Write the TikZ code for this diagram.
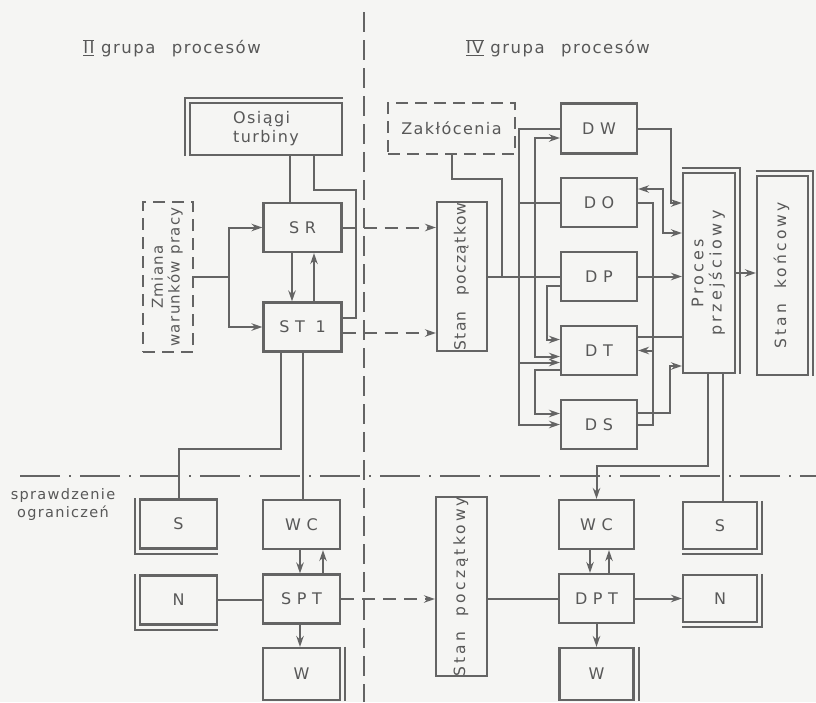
\documentclass[tikz,border=0pt]{standalone}
\usepackage{fontspec}
\usepackage{graphicx}
\usetikzlibrary{arrows.meta}
\setmainfont{DejaVu Sans}
\newfontfamily\napis[LetterSpace=9]{DejaVu Sans}
\newfontfamily\rozstaw[LetterSpace=20]{DejaVu Sans}
\newfontfamily\skrot[LetterSpace=35]{DejaVu Sans}
\definecolor{linia}{RGB}{100,100,100}
\definecolor{napisy}{RGB}{88,88,88}
\definecolor{tlo}{RGB}{245,245,243}
\newcommand{\pion}[1]{\rotatebox{90}{\begin{tabular}{@{}c@{}}#1\end{tabular}}}

\begin{document}
\begin{tikzpicture}[x=1pt,y=-1pt,>={Stealth[length=11pt,width=7.5pt]},node distance=74pt,
    lin/.style={draw=linia, line width=2pt},
    przerywana/.style={lin, dash pattern=on 13pt off 8pt},
    blok/.style={draw=linia, line width=2.2pt, rectangle, inner sep=0pt,
        minimum width=78pt, minimum height=49pt, text=napisy,
        font=\skrot\fontsize{16}{19}\selectfont},
    kreski/.style={dash pattern=on 12pt off 7pt},
    pionowy/.style={blok, font=\rozstaw\fontsize{15.5}{18}\selectfont},
    opis/.style={text=napisy, align=center, font=\napis\fontsize{16.5}{19}\selectfont}]
    \fill[tlo] (0,0) rectangle (816,702);
    \useasboundingbox (0,0) rectangle (816,702);

    % II grupa procesow
    \node (tytul2) [opis] at (172,48) {$\overline{\underline{\mbox{II}}}$ grupa\quad procesów};
    \node (osiagi) [blok, minimum width=152pt, minimum height=52pt, align=left,
        font=\napis\fontsize{16}{19}\selectfont] at (266,129) {Osiągi\\turbiny};
    \node (sr) [blok] at (302.5,227.5) {SR};
    \node (st1) [blok, node distance=99.5pt, below of=sr] {ST 1};
    \node (zmiana) [pionowy, kreski, minimum width=50pt, minimum height=150pt,
        font=\napis\fontsize{15}{16}\selectfont] at (168,277) {\pion{Zmiana\\warunków pracy}};

    % IV grupa procesow
    \node (tytul4) [opis] at (558,48) {$\overline{\underline{\mbox{IV}}}$ grupa\quad procesów};
    \node (zakl) [blok, kreski, minimum width=127pt, minimum height=51pt,
        font=\napis\fontsize{16}{19}\selectfont] at (451.5,128.5) {Zakłócenia};
    \node (stanA) [pionowy, minimum width=50pt, minimum height=147pt,
        font=\napis\fontsize{15.5}{18}\selectfont] at (462,276.5) {\pion{Stan\quad początkow}};
    \node (dw) [blok, minimum width=76pt, minimum height=50pt] at (599,128.5) {DW};
    \node (do) [blok, minimum width=76pt, below of=dw] {DO};
    \node (dp) [blok, minimum width=76pt, below of=do] {DP};
    \node (dt) [blok, minimum width=76pt, below of=dp] {DT};
    \node (ds) [blok, minimum width=76pt, below of=dt] {DS};
    \node (proces) [pionowy, minimum width=52pt, minimum height=200pt,
        font=\rozstaw\fontsize{16}{18}\selectfont] at (709,273) {\pion{Proces\\przejściowy}};
    \node (konc) [pionowy, minimum width=51pt, minimum height=199pt] at (782.5,275.5) {\pion{Stan\quad końcowy}};

    % sprawdzenie ograniczen
    \node (spr) [opis, font=\napis\fontsize{14.5}{18}\selectfont] at (63,504) {sprawdzenie\\ograniczeń};
    \node (sL) [blok, minimum width=77pt] at (178.5,524) {S};
    \node (nL) [blok, minimum width=77pt, node distance=76pt, below of=sL] {N};
    \node (wcL) [blok, minimum width=77pt] at (301.5,524.5) {WC};
    \node (sptL) [blok, minimum width=77pt, node distance=74.5pt, below of=wcL] {SPT};
    \node (wL) [blok, minimum width=77pt, minimum height=52pt, node distance=75pt, below of=sptL] {W};
    \node (stanB) [pionowy, minimum width=51pt, minimum height=173pt] at (461.5,586.5) {\pion{Stan\quad początkowy}};
    \node (wcR) [blok, minimum width=75pt] at (596.5,524.5) {WC};
    \node (dpt) [blok, minimum width=75pt, below of=wcR] {DPT};
    \node (wR) [blok, minimum width=74pt, minimum height=52pt, node distance=75.5pt, below of=dpt] {W};
    \node (sR) [blok, minimum width=74pt, minimum height=47pt] at (720,525.5) {S};
    \node (nR) [blok, minimum width=74pt, minimum height=47pt, node distance=73pt, below of=sR] {N};

    % podwojne krawedzie
    \draw[lin] ([xshift=-4pt]osiagi.south west) |- ([yshift=4pt]osiagi.north east);
    \foreach \n in {proces,konc}
        \draw[lin] ([yshift=4pt]\n.north west) -| ([xshift=4pt]\n.south east);
    \foreach \n in {sL,nL}
        \draw[lin] ([xshift=-4pt]\n.north west) |- ([yshift=-4pt]\n.south east);
    \foreach \n in {sR,nR}
        \draw[lin] ([xshift=4pt]\n.north east) |- ([yshift=-4pt]\n.south west);
    \foreach \n in {wL,wR}
        \draw[lin] ([xshift=4pt]\n.north east) -- ([xshift=4pt]\n.south east);

    % linie podzialu
    \draw[linia, line width=1.6pt, dash pattern=on 20pt off 8pt] (364,12) -- (364,702);
    \draw[linia, line width=1.6pt, dash pattern=on 40pt off 9pt on 2pt off 9pt] (20,476) -- (816,476);

    % polaczenia lewej grupy
    \draw[lin] ([xshift=24pt]osiagi.south) -- ([xshift=-12.5pt]sr.north);
    \draw[lin] ([xshift=48pt]osiagi.south) -- ++(0,34) -| ([xshift=13.5pt,yshift=9pt]st1.east) -- ([yshift=9pt]st1.east);
    \draw[lin,->] ([xshift=-10.5pt]sr.south) -- ([xshift=-10.5pt]st1.north);
    \draw[lin,->] ([xshift=11.5pt]st1.north) -- ([xshift=11.5pt]sr.south);
    \draw[lin,->] (zmiana.east) -- ++(35,0) |- (sr.west);
    \draw[lin,->] (zmiana.east) -- ++(35,0) |- (st1.west);
    \draw[przerywana,->] (sr.east) -- (sr.east -| stanA.west);
    \draw[przerywana,->] ([yshift=-6pt]st1.east) -- ([yshift=-6pt]st1.east -| stanA.west);
    \draw[lin] ([xshift=-21.5pt]st1.south) -- ++(0,96.5) -| (sL.north);
    \draw[lin] (st1.south) -- (st1.south |- wcL.north);

    % polaczenia prawej grupy
    \draw[lin] (zakl.south) -- ++(0,24) -| ([xshift=-58pt]dp.west);
    \draw[lin] (stanA.east |- dp.west) -- (dp.west);
    \draw[lin,->] (dw.west) -- ++(-41,0) |- (ds.west);
    \draw[lin] (do.west) -- ++(-41,0);
    \draw[lin,<-] ([yshift=-12pt]dt.west) -- ++(-41,0);
    \draw[lin,->] ([xshift=-25pt]dp.west) |- ([yshift=-9.5pt]dw.west);
    \draw[lin,->] ([xshift=-25pt]dp.west) |- ([yshift=-6pt]dt.west);
    \draw[lin,->] ([yshift=-9.5pt]dp.west) -- ++(-13,0) |- ([yshift=11pt]dt.west);
    \draw[lin,->] ([yshift=-19pt]dt.west) -- ++(-25,0) |- ([yshift=11pt]ds.west);
    \draw[lin,->] (dw.east) -- ++(33,0) |- ([yshift=70pt]proces.west);
    \draw[lin,<->] ([yshift=13.5pt]do.east) -- ++(25,0) |- ([yshift=40pt]proces.west);
    \draw[lin,->] (dp.east) -- (dp.east -| proces.west);
    \draw[lin] ([yshift=14pt]dt.east) -- ++(46,0);
    \draw[lin] (do.east) -- ++(15,0) |- (ds.east);
    \draw[lin,->] ([xshift=15pt]dt.east) -- (dt.east);
    \draw[lin,->] ([yshift=12pt]ds.east) -- ++(32,0) |- ([yshift=-93pt]proces.west);
    \draw[lin,->] (proces.east) -- (proces.east -| konc.west);

    % polaczenia dolne
    \draw[lin,->] ([xshift=-1.5pt]wcL.south) -- ([xshift=-1.5pt]sptL.north);
    \draw[lin,->] ([xshift=21.5pt]sptL.north) -- ([xshift=21.5pt]wcL.south);
    \draw[lin] (nL.east) -- (nL.east -| sptL.west);
    \draw[lin,->] ([xshift=-1.5pt]sptL.south) -- ([xshift=-1.5pt]wL.north);
    \draw[przerywana,->] (sptL.east) -- (sptL.east -| stanB.west);
    \draw[lin] (stanB.east |- dpt.west) -- (dpt.west);
    \draw[lin,->] ([xshift=-6.5pt]wcR.south) -- ([xshift=-6.5pt]dpt.north);
    \draw[lin,->] ([xshift=12.5pt]dpt.north) -- ([xshift=12.5pt]wcR.south);
    \draw[lin,->] (dpt.south) -- (dpt.south |- wR.north);
    \draw[lin,->] (dpt.east) -- (dpt.east -| nR.west);
    \draw[lin,->] ([xshift=-1pt]proces.south) -- ++(0,92) -| (wcR.north);
    \draw[lin] ([xshift=14pt]proces.south) -- ([xshift=3pt]sR.north);
\end{tikzpicture}
\end{document}
